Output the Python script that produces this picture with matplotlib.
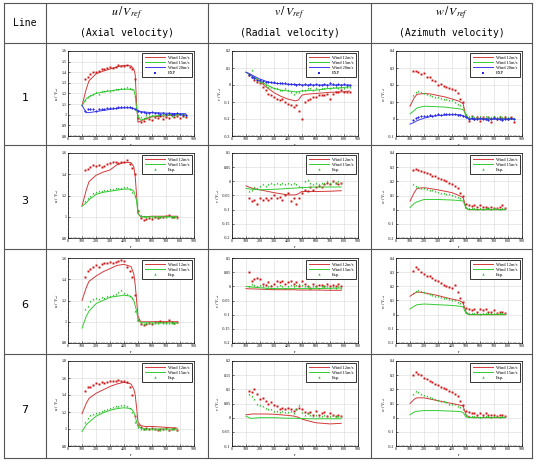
import matplotlib
matplotlib.use("Agg")
import matplotlib.pyplot as plt
from matplotlib.lines import Line2D
from matplotlib.ticker import AutoMinorLocator, MultipleLocator, FuncFormatter

# ---- data ----
ROW_NAMES = ["1", "3", "6", "7"]
COL_SYMBOLS = [r"$u\,/\,V_{ref}$", r"$v\,/\,V_{ref}$", r"$w\,/\,V_{ref}$"]
COL_TITLES = ["(Axial velocity)", "(Radial velocity)", "(Azimuth velocity)"]
WIND_LABELS = ["Wind 12m/s", "Wind 15m/s", "Wind 20m/s"]

# computed line stations
LR1 = [100, 130, 150, 200, 250, 300, 350, 400, 450, 470, 480, 490, 500, 520, 550, 600, 700, 800, 840]
LR2 = [100, 130, 150, 200, 250, 300, 350, 400, 450, 470, 480, 490, 500, 520, 550, 600, 700, 780]
# measurement stations
R_EXP1 = [120, 140, 160, 180, 200, 220, 240, 260, 280, 300, 320, 340, 360, 380, 400, 420, 440, 460, 480,
          500, 520, 540, 560, 580, 600, 620, 640, 660, 680, 700, 720, 740, 760, 780, 800, 820, 840]
R_EXP2 = [120, 140, 160, 180, 200, 220, 240, 260, 280, 300, 320, 340, 360, 380, 400, 420, 440, 460, 480,
          500, 520, 540, 560, 580, 600, 620, 640, 660, 680, 700, 720, 740, 760, 780]

# line 1
U1_12 = [1.085, 1.24, 1.32, 1.385, 1.41, 1.43, 1.45, 1.465, 1.46, 1.43, 1.38, 1.1, 0.93, 0.94, 0.96, 0.98, 0.99, 1.0, 1.0]
U1_15 = [1.085, 1.15, 1.17, 1.20, 1.215, 1.225, 1.235, 1.24, 1.24, 1.235, 1.18, 1.05, 0.98, 0.95, 0.96, 0.985, 1.0, 1.0, 1.0]
U1_20 = [1.09, 1.02, 1.02, 1.03, 1.04, 1.05, 1.06, 1.065, 1.065, 1.06, 1.05, 1.045, 1.04, 1.03, 1.025, 1.02, 1.015, 1.01, 1.01]
V1_12 = [0.075, 0.06, 0.05, 0.02, -0.015, -0.045, -0.067, -0.083, -0.093, -0.09, -0.083, -0.07, -0.06, -0.055, -0.053, -0.05, -0.043, -0.04, -0.035]
V1_15 = [0.075, 0.06, 0.05, 0.025, 0.0, -0.02, -0.03, -0.035, -0.04, -0.04, -0.038, -0.036, -0.035, -0.034, -0.032, -0.03, -0.02, -0.015, -0.01]
V1_20 = [0.075, 0.065, 0.055, 0.035, 0.02, 0.01, 0.008, 0.005, 0.003, 0.002, 0.002, 0.001, 0.0, 0.0, 0.0, 0.0, 0.0, 0.0, 0.0]
W1_12 = [0.075, 0.125, 0.145, 0.15, 0.147, 0.138, 0.13, 0.118, 0.105, 0.095, 0.09, 0.05, 0.015, 0.005, 0.0, 0.0, 0.0, 0.0, 0.0]
W1_15 = [0.03, 0.05, 0.065, 0.075, 0.074, 0.072, 0.07, 0.065, 0.06, 0.057, 0.055, 0.04, 0.02, 0.005, 0.0, 0.0, 0.0, 0.0, 0.0]
W1_20 = [-0.03, -0.02, -0.01, 0.005, 0.015, 0.02, 0.023, 0.025, 0.025, 0.022, 0.02, 0.015, 0.01, 0.0, 0.0, 0.0, 0.0, 0.0, 0.0]

U1_12_E = [1.34, 1.36, 1.38, 1.40, 1.40, 1.41, 1.43, 1.43, 1.44, 1.445, 1.44, 1.45, 1.465, 1.46, 1.46, 1.47, 1.45, 1.43, 1.34,
           0.97, 0.93, 0.94, 0.97, 0.96, 0.95, 0.98, 0.97, 0.99, 0.96, 0.98, 0.97, 1.0, 0.98, 0.99, 0.97, 0.99, 0.98]
U1_15_E = [1.14, 1.17, 1.19, 1.20, 1.21, 1.20, 1.22, 1.22, 1.23, 1.22, 1.23, 1.24, 1.24, 1.25, 1.25, 1.26, 1.25, 1.24, 1.18,
           1.0, 0.98, 0.97, 1.0, 0.99, 1.0, 0.98, 1.0, 1.01, 0.99, 1.0, 1.01, 0.99, 1.0, 1.0, 1.01, 0.99, 1.0]
U1_20_E = [1.04, 1.05, 1.05, 1.05, 1.04, 1.05, 1.05, 1.05, 1.06, 1.06, 1.06, 1.06, 1.07, 1.07, 1.07, 1.07, 1.07, 1.06, 1.05,
           1.04, 1.03, 1.03, 1.02, 1.02, 1.03, 1.02, 1.02, 1.01, 1.02, 1.01, 1.02, 1.01, 1.01, 1.02, 1.01, 1.0, 1.0]
V1_12_E = [0.06, 0.05, 0.03, 0.02, 0.01, -0.01, -0.03, -0.05, -0.06, -0.07, -0.08, -0.09, -0.08, -0.10, -0.11, -0.12, -0.13, -0.12, -0.15,
           -0.2, -0.1, -0.09, -0.08, -0.07, -0.07, -0.06, -0.06, -0.06, -0.05, -0.08, -0.05, -0.04, -0.04, -0.03, -0.04, -0.04, -0.04]
V1_15_E = [0.065, 0.09, 0.04, 0.03, 0.02, 0.01, 0.0, -0.01, -0.01, -0.02, -0.02, -0.03, -0.03, -0.02, -0.03, -0.04, -0.05, -0.04, -0.04,
           -0.03, -0.03, -0.02, -0.02, -0.03, -0.02, -0.03, -0.02, -0.02, -0.01, -0.02, -0.01, -0.01, -0.02, -0.01, -0.02, -0.01, -0.01]
V1_20_E = [0.06, 0.05, 0.04, 0.03, 0.03, 0.025, 0.02, 0.02, 0.02, 0.015, 0.01, 0.01, 0.01, 0.01, 0.005, 0.005, 0.005, 0.0, 0.005,
           0.0, 0.005, 0.0, 0.005, 0.0, 0.005, 0.0, 0.0, 0.005, 0.0, 0.01, 0.005, 0.0, 0.005, 0.0, 0.005, 0.0, 0.0]
W1_12_E = [0.28, 0.28, 0.275, 0.265, 0.27, 0.25, 0.245, 0.23, 0.225, 0.2, 0.205, 0.195, 0.19, 0.18, 0.175, 0.17, 0.155, 0.12, 0.1,
           0.02, -0.01, 0.02, 0.0, 0.01, -0.01, 0.01, 0.0, 0.01, -0.02, 0.01, 0.0, 0.01, 0.0, 0.01, 0.0, 0.01, -0.02]
W1_15_E = [0.14, 0.16, 0.165, 0.16, 0.155, 0.15, 0.14, 0.135, 0.13, 0.13, 0.125, 0.12, 0.115, 0.11, 0.11, 0.10, 0.09, 0.085, 0.07,
           0.03, 0.015, 0.02, 0.01, 0.015, 0.02, 0.01, 0.015, 0.01, 0.01, 0.015, 0.01, 0.02, 0.01, 0.015, 0.01, 0.005, 0.005]
W1_20_E = [-0.005, 0.005, 0.01, 0.015, 0.02, 0.02, 0.025, 0.02, 0.025, 0.03, 0.025, 0.03, 0.03, 0.03, 0.03, 0.03, 0.025, 0.025, 0.02,
           0.01, 0.0, 0.005, 0.0, 0.0, 0.005, 0.0, 0.0, -0.005, 0.0, 0.005, 0.0, 0.0, -0.005, 0.0, 0.0, 0.005, 0.0]

# line 3
U3_12 = [1.1, 1.25, 1.33, 1.39, 1.42, 1.44, 1.49, 1.51, 1.51, 1.47, 1.38, 1.2, 1.03, 1.0, 1.0, 1.005, 1.005, 1.005]
U3_15 = [1.1, 1.13, 1.16, 1.21, 1.23, 1.24, 1.25, 1.26, 1.26, 1.24, 1.2, 1.15, 1.03, 1.0, 1.0, 1.0, 1.0, 1.0]
V3_12 = [-0.016, -0.022, -0.025, -0.03, -0.035, -0.04, -0.044, -0.048, -0.048, -0.045, -0.042, -0.038, -0.036, -0.036, -0.036, -0.036, -0.035, -0.033]
V3_15 = [-0.025, -0.027, -0.028, -0.03, -0.029, -0.028, -0.027, -0.025, -0.024, -0.023, -0.023, -0.022, -0.022, -0.022, -0.021, -0.02, -0.02, -0.02]
W3_12 = [0.06, 0.12, 0.15, 0.155, 0.148, 0.14, 0.13, 0.12, 0.1, 0.09, 0.085, 0.05, 0.01, 0.0, 0.0, 0.0, 0.0, 0.0]
W3_15 = [0.015, 0.045, 0.055, 0.072, 0.072, 0.072, 0.07, 0.068, 0.065, 0.062, 0.06, 0.035, 0.01, 0.0, 0.0, 0.0, 0.0, 0.0]
U3_12_E = [1.44, 1.45, 1.47, 1.49, 1.48, 1.49, 1.47, 1.48, 1.50, 1.51, 1.52, 1.52, 1.51, 1.52, 1.52, 1.53, 1.50, 1.46, 1.40,
           1.05, 0.99, 0.97, 0.98, 0.99, 0.98, 1.0, 0.99, 1.0, 1.0, 1.01, 1.02, 1.0, 1.0, 1.0]
U3_15_E = [1.15, 1.18, 1.20, 1.22, 1.23, 1.24, 1.24, 1.25, 1.25, 1.26, 1.26, 1.27, 1.27, 1.27, 1.28, 1.28, 1.26, 1.23, 1.20,
           1.06, 1.02, 1.01, 1.0, 1.0, 1.0, 1.0, 1.0, 1.0, 1.0, 1.0, 1.01, 1.0, 1.0, 0.99]
V3_12_E = [-0.06, -0.07, -0.065, -0.08, -0.06, -0.065, -0.06, -0.065, -0.06, -0.05, -0.06, -0.055, -0.065, -0.05, -0.04, -0.07, -0.06, -0.08, -0.06,
           -0.04, -0.03, -0.035, -0.02, -0.03, -0.02, -0.015, -0.02, -0.01, -0.005, -0.01, 0.0, -0.005, -0.01, -0.005]
V3_15_E = [-0.035, -0.03, -0.02, -0.025, -0.015, -0.01, -0.015, -0.01, -0.005, -0.01, -0.005, -0.01, -0.005, -0.01, -0.005, -0.01, -0.005, -0.01, -0.015,
           -0.02, 0.0, 0.005, -0.005, -0.01, -0.005, -0.01, -0.005, -0.005, 0.0, -0.005, 0.0, -0.005, 0.0, -0.005]
W3_12_E = [0.28, 0.285, 0.28, 0.27, 0.265, 0.26, 0.25, 0.24, 0.235, 0.225, 0.215, 0.21, 0.2, 0.19, 0.18, 0.17, 0.15, 0.12, 0.1,
           0.04, 0.03, 0.025, 0.03, 0.02, 0.03, 0.02, 0.02, 0.015, 0.02, 0.015, 0.01, 0.02, 0.035, 0.015]
W3_15_E = [0.18, 0.17, 0.16, 0.155, 0.15, 0.145, 0.14, 0.14, 0.13, 0.125, 0.12, 0.115, 0.11, 0.11, 0.105, 0.10, 0.09, 0.08, 0.075,
           0.02, 0.01, 0.01, 0.01, 0.005, 0.01, 0.005, 0.01, 0.01, 0.005, 0.01, 0.01, 0.005, 0.01, 0.01]

# line 6
U6_12 = [1.2, 1.32, 1.38, 1.43, 1.47, 1.5, 1.53, 1.54, 1.52, 1.45, 1.35, 1.2, 1.05, 1.0, 1.0, 1.0, 1.0, 1.0]
U6_15 = [0.94, 1.05, 1.1, 1.17, 1.2, 1.23, 1.24, 1.25, 1.24, 1.2, 1.15, 1.1, 1.02, 0.99, 0.99, 0.99, 0.99, 0.99]
V6_12 = [-0.008, -0.009, -0.009, -0.01, -0.011, -0.012, -0.012, -0.012, -0.012, -0.013, -0.013, -0.013, -0.013, -0.013, -0.013, -0.013, -0.014, -0.014]
V6_15 = [0.0, -0.002, -0.003, -0.005, -0.007, -0.008, -0.008, -0.008, -0.008, -0.008, -0.008, -0.008, -0.008, -0.008, -0.008, -0.008, -0.007, -0.006]
W6_12 = [0.13, 0.15, 0.16, 0.155, 0.145, 0.135, 0.122, 0.11, 0.1, 0.09, 0.08, 0.05, 0.02, 0.0, 0.0, 0.0, 0.0, 0.0]
W6_15 = [0.04, 0.06, 0.07, 0.075, 0.073, 0.07, 0.068, 0.065, 0.06, 0.057, 0.055, 0.03, 0.01, 0.0, 0.0, 0.0, 0.0, 0.0]
U6_12_E = [1.42, 1.48, 1.50, 1.52, 1.53, 1.52, 1.54, 1.55, 1.55, 1.56, 1.55, 1.56, 1.57, 1.58, 1.57, 1.52, 1.48, 1.42, 1.25,
           1.02, 0.98, 0.97, 0.98, 0.99, 0.98, 1.0, 1.0, 1.01, 1.0, 1.0, 1.02, 1.0, 0.99, 1.0]
U6_15_E = [1.12, 1.15, 1.20, 1.21, 1.22, 1.21, 1.23, 1.22, 1.24, 1.24, 1.25, 1.26, 1.28, 1.30, 1.27, 1.26, 1.24, 1.22, 1.10,
           1.02, 0.99, 0.98, 0.99, 0.99, 0.99, 0.99, 0.99, 1.0, 0.99, 0.99, 0.99, 0.99, 0.99, 1.0]
V6_12_E = [0.05, 0.02, 0.025, 0.03, 0.025, 0.01, 0.005, 0.015, 0.0, 0.01, 0.02, 0.015, 0.02, 0.01, 0.015, 0.02, 0.01, 0.015, 0.0,
           0.02, 0.01, 0.0, -0.005, 0.01, 0.0, 0.005, 0.005, 0.0, 0.01, 0.0, 0.005, 0.0, 0.01, 0.0]
V6_15_E = [0.0, 0.01, 0.005, 0.0, 0.005, 0.0, -0.005, 0.0, 0.005, -0.005, 0.0, 0.005, 0.0, -0.005, 0.0, 0.005, 0.0, 0.005, 0.01,
           0.005, 0.0, 0.0, -0.005, 0.0, 0.0, -0.005, 0.0, 0.0, 0.0, -0.005, 0.0, -0.005, 0.0, -0.005]
W6_12_E = [0.31, 0.335, 0.32, 0.30, 0.29, 0.275, 0.27, 0.26, 0.245, 0.235, 0.225, 0.21, 0.2, 0.195, 0.19, 0.21, 0.16, 0.12, 0.09,
           0.05, 0.04, 0.03, 0.04, 0.02, 0.04, 0.03, 0.04, 0.02, 0.02, 0.03, 0.015, 0.02, 0.02, 0.01]
W6_15_E = [0.15, 0.17, 0.175, 0.17, 0.16, 0.155, 0.145, 0.14, 0.135, 0.13, 0.125, 0.12, 0.115, 0.11, 0.105, 0.10, 0.09, 0.08, 0.06,
           0.02, 0.01, 0.015, 0.01, 0.01, 0.005, 0.01, 0.01, 0.015, 0.01, 0.01, 0.01, 0.015, 0.01, 0.01]

# line 7
U7_12 = [1.18, 1.3, 1.36, 1.42, 1.46, 1.5, 1.53, 1.55, 1.53, 1.47, 1.4, 1.25, 1.08, 1.04, 1.03, 1.03, 1.02, 1.01]
U7_15 = [0.97, 1.05, 1.08, 1.15, 1.19, 1.22, 1.24, 1.25, 1.24, 1.2, 1.15, 1.08, 1.04, 1.01, 1.0, 1.0, 1.0, 1.0]
V7_12 = [0.01, 0.012, 0.013, 0.013, 0.013, 0.012, 0.01, 0.008, 0.005, 0.002, 0.0, -0.003, -0.005, -0.008, -0.012, -0.018, -0.022, -0.02]
V7_15 = [0.005, -0.002, -0.002, 0.0, 0.0, 0.0, -0.001, -0.002, -0.002, -0.003, -0.003, -0.003, -0.003, -0.003, -0.004, -0.004, -0.004, -0.004]
W7_12 = [0.1, 0.13, 0.14, 0.14, 0.13, 0.12, 0.11, 0.1, 0.09, 0.085, 0.08, 0.05, 0.02, 0.005, 0.0, 0.0, 0.0, 0.0]
W7_15 = [0.02, 0.04, 0.045, 0.05, 0.05, 0.05, 0.048, 0.046, 0.044, 0.04, 0.035, 0.02, 0.005, 0.0, 0.0, 0.0, 0.0, 0.0]
U7_12_E = [1.45, 1.49, 1.50, 1.52, 1.54, 1.53, 1.55, 1.54, 1.55, 1.56, 1.56, 1.57, 1.58, 1.57, 1.56, 1.55, 1.50, 1.40, 1.15,
           1.05, 1.02, 1.0, 1.01, 1.0, 1.01, 1.0, 0.99, 1.0, 1.0, 1.01, 0.99, 1.0, 1.01, 0.99]
U7_15_E = [1.08, 1.13, 1.16, 1.18, 1.19, 1.20, 1.21, 1.22, 1.24, 1.25, 1.26, 1.27, 1.27, 1.28, 1.28, 1.27, 1.25, 1.20, 1.08,
           1.02, 1.0, 1.0, 1.0, 1.0, 1.0, 1.0, 1.0, 0.99, 1.0, 1.0, 0.99, 1.0, 1.0, 0.99]
V7_12_E = [0.095, 0.09, 0.1, 0.085, 0.065, 0.07, 0.06, 0.05, 0.055, 0.045, 0.04, 0.03, 0.035, 0.03, 0.035, 0.03, 0.025, 0.03, 0.035,
           0.03, 0.02, 0.015, 0.02, 0.01, 0.025, 0.01, 0.015, 0.02, 0.005, 0.015, 0.01, 0.005, 0.01, 0.005]
V7_15_E = [0.085, 0.075, 0.065, 0.05, 0.045, 0.04, 0.035, 0.03, 0.03, 0.025, 0.025, 0.02, 0.025, 0.02, 0.02, 0.025, 0.015, 0.03, 0.045,
           0.02, 0.01, 0.015, 0.01, 0.005, 0.01, 0.005, 0.005, 0.01, 0.005, 0.005, 0.01, 0.005, 0.005, 0.005]
W7_12_E = [0.3, 0.32, 0.31, 0.3, 0.28, 0.27, 0.26, 0.25, 0.24, 0.23, 0.22, 0.21, 0.2, 0.19, 0.18, 0.17, 0.15, 0.12, 0.09,
           0.05, 0.04, 0.03, 0.03, 0.02, 0.03, 0.02, 0.03, 0.02, 0.02, 0.02, 0.015, 0.02, 0.02, 0.01]
W7_15_E = [0.17, 0.19, 0.18, 0.17, 0.16, 0.15, 0.145, 0.14, 0.13, 0.125, 0.12, 0.115, 0.11, 0.1, 0.1, 0.095, 0.085, 0.075, 0.06,
           0.02, 0.01, 0.01, 0.01, 0.01, 0.005, 0.01, 0.01, 0.01, 0.005, 0.01, 0.01, 0.005, 0.01, 0.01]

# axis ranges: (ymin, ymax, major step)
U_YAX = [(0.8, 1.6, 0.1), (0.8, 1.6, 0.2), (0.8, 1.6, 0.2), (0.8, 1.8, 0.2)]
V_YAX = [(-0.3, 0.2, 0.1), (-0.2, 0.1, 0.05), (-0.2, 0.1, 0.05), (-0.1, 0.2, 0.05)]
W_YAX = [(-0.1, 0.4, 0.1), (-0.2, 0.4, 0.1), (-0.2, 0.4, 0.1), (-0.2, 0.4, 0.1)]

COLORS = ["#d23a3a", "#33cc33", "#3b3bf0"]
PT_COLORS = ["#c81414", "#22bb22", "#2a2ae6"]
MARKERS = ["s", "^", "D"]

W, H = 543, 466
plt.rcParams["font.family"] = ["Liberation Serif", "DejaVu Serif"]
plt.rcParams["mathtext.fontset"] = "stix"

fig = plt.figure(figsize=(W / 100, H / 100), dpi=100)


def fx(x):
    return x / W


def fy(y):
    return 1 - y / H


# table grid
col_x = [4, 46, 208, 371, 532]
row_y = [3, 43, 145, 249, 354, 458]
for x in col_x:
    fig.add_artist(Line2D([fx(x), fx(x)], [fy(row_y[0]), fy(row_y[-1])], color="#555555", lw=0.8))
for y in row_y:
    fig.add_artist(Line2D([fx(col_x[0]), fx(col_x[-1])], [fy(y), fy(y)], color="#555555", lw=0.8))

mono = ["DejaVu Sans Mono"]
fig.text(fx(25), fy(23), "Line", ha="center", va="center", fontsize=7, family=mono)
for i in range(3):
    cx = (col_x[i + 1] + col_x[i + 2]) / 2
    fig.text(fx(cx), fy(13), COL_SYMBOLS[i], ha="center", va="center", fontsize=8.5)
    fig.text(fx(cx), fy(33), COL_TITLES[i], ha="center", va="center", fontsize=7, family=mono)
for j, name in enumerate(ROW_NAMES):
    cy = (row_y[j + 1] + row_y[j + 2]) / 2 + 4
    fig.text(fx(25), fy(cy), name, ha="center", va="center", fontsize=8, family=["DejaVu Sans"])

ax_left = [68, 232, 396]
ax_top = [51, 153, 258, 361]
ax_w, ax_h = 126, 85

panels = [
    [(LR1, [U1_12, U1_15, U1_20], R_EXP1, [U1_12_E, U1_15_E, U1_20_E]),
     (LR1, [V1_12, V1_15, V1_20], R_EXP1, [V1_12_E, V1_15_E, V1_20_E]),
     (LR1, [W1_12, W1_15, W1_20], R_EXP1, [W1_12_E, W1_15_E, W1_20_E])],
    [(LR2, [U3_12, U3_15], R_EXP2, [U3_12_E, U3_15_E]),
     (LR2, [V3_12, V3_15], R_EXP2, [V3_12_E, V3_15_E]),
     (LR2, [W3_12, W3_15], R_EXP2, [W3_12_E, W3_15_E])],
    [(LR2, [U6_12, U6_15], R_EXP2, [U6_12_E, U6_15_E]),
     (LR2, [V6_12, V6_15], R_EXP2, [V6_12_E, V6_15_E]),
     (LR2, [W6_12, W6_15], R_EXP2, [W6_12_E, W6_15_E])],
    [(LR2, [U7_12, U7_15], R_EXP2, [U7_12_E, U7_15_E]),
     (LR2, [V7_12, V7_15], R_EXP2, [V7_12_E, V7_15_E]),
     (LR2, [W7_12, W7_15], R_EXP2, [W7_12_E, W7_15_E])],
]
yaxes = [U_YAX, V_YAX, W_YAX]
ylabels = [r"$u\ /\ V_{ref}$", r"$v\ /\ V_{ref}$", r"$w\ /\ V_{ref}$"]
fmt = FuncFormatter(lambda v, p: ("%g" % round(v, 3)).replace("-0", "-0") if abs(v) > 1e-9 else "0")

for j in range(4):
    for i in range(3):
        lr, lines, re, exps = panels[j][i]
        ax = fig.add_axes([fx(ax_left[i]), fy(ax_top[j] + ax_h), ax_w / W, ax_h / H])
        handles = []
        for k, (lv, ev) in enumerate(zip(lines, exps)):
            h, = ax.plot(lr, lv, color=COLORS[k], lw=0.7)
            handles.append(h)
            ax.plot(re, ev, ls="none", marker=MARKERS[k], ms=1.4, color=PT_COLORS[k], mew=0)
        n = len(lines)
        exp_col = PT_COLORS[2] if n == 3 else PT_COLORS[1]
        handles.append(Line2D([], [], ls="none", marker="s" if n == 3 else "^", ms=1.6, color=exp_col, mew=0))
        labels = WIND_LABELS[:n] + (["EXP"] if n == 3 else ["Exp."])
        leg = ax.legend(handles, labels, loc="upper right", fontsize=3.2, handlelength=4.5,
                        borderaxespad=0.5, borderpad=0.5, labelspacing=0.25, handletextpad=0.8,
                        fancybox=False, framealpha=1, markerfirst=True)
        leg.get_frame().set_edgecolor("#333333")
        leg.get_frame().set_linewidth(0.7)

        ymin, ymax, step = yaxes[i][j]
        ax.set_xlim(0, 900)
        ax.set_ylim(ymin, ymax)
        ax.xaxis.set_major_locator(MultipleLocator(100))
        ax.yaxis.set_major_locator(MultipleLocator(step))
        ax.xaxis.set_minor_locator(AutoMinorLocator(5))
        ax.yaxis.set_minor_locator(AutoMinorLocator(5))
        ax.yaxis.set_major_formatter(fmt)
        ax.xaxis.set_major_formatter(fmt)
        ax.grid(True, which="major", color="#d8d8d8", lw=0.4)
        ax.set_axisbelow(True)
        ax.tick_params(which="major", labelsize=3, length=1.5, width=0.4, pad=1, direction="in")
        ax.tick_params(which="minor", length=0.8, width=0.3, direction="in")
        for s in ax.spines.values():
            s.set_linewidth(0.5)
        ax.set_xlabel("r", fontsize=3.5, labelpad=1)
        ax.set_ylabel(ylabels[i], fontsize=3.5, labelpad=1)

fig.savefig("out.png", dpi=100)
